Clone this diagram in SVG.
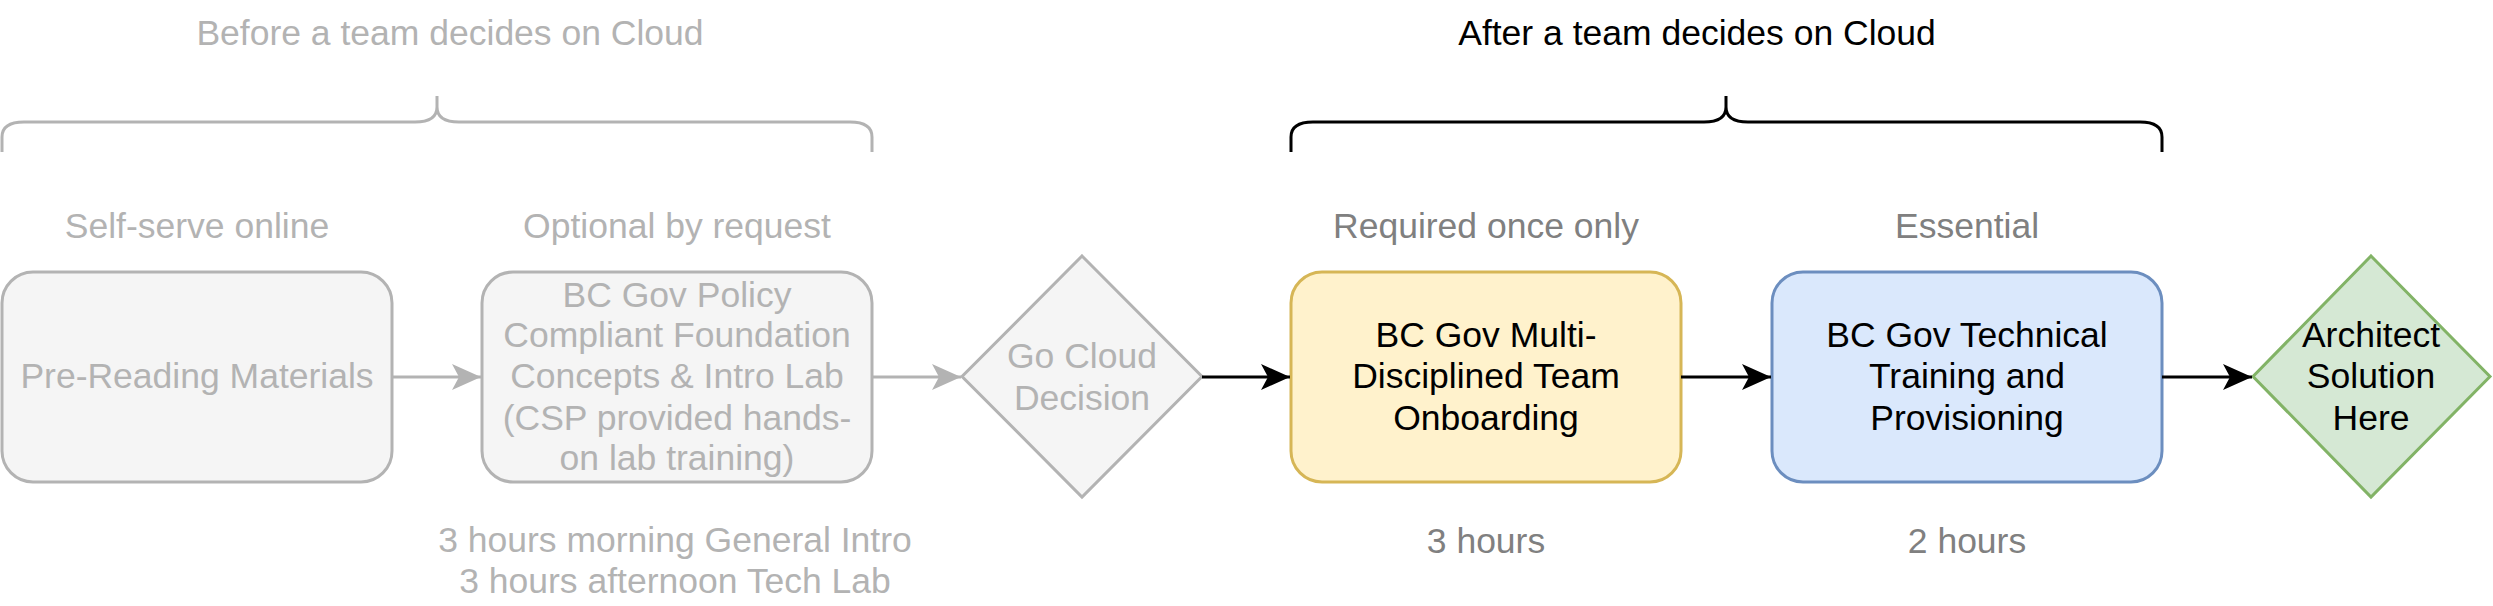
<svg xmlns="http://www.w3.org/2000/svg" width="2493" height="606" viewBox="0 0 2493 606">
<style>
text{font-family:"Liberation Sans",Arial,Helvetica,sans-serif;font-size:35.5px;text-anchor:middle}
.fade{fill:#B3B3B3}
.mid{fill:#808080}
.dark{fill:#000000}
.gbox{fill:#f5f5f5;stroke:#B3B3B3;stroke-width:3}
.brace{fill:none;stroke-width:3}
.conn{fill:none;stroke-width:3}
</style>
<defs>
<marker id="ag" markerUnits="userSpaceOnUse" markerWidth="30" markerHeight="28" refX="29" refY="13" orient="auto" viewBox="0 0 30 28">
<path d="M29 13 L0 0 L7 13 L0 26 Z" fill="#B3B3B3"/>
</marker>
<marker id="ab" markerUnits="userSpaceOnUse" markerWidth="30" markerHeight="28" refX="29" refY="13" orient="auto" viewBox="0 0 30 28">
<path d="M29 13 L0 0 L7 13 L0 26 Z" fill="#000000"/>
</marker>
</defs>
<rect width="2493" height="606" fill="#ffffff"/>

<g id="title-before">
<text class="fade" x="450" y="45">Before a team decides on Cloud</text>
<path class="brace" stroke="#B3B3B3" d="M2 152 L2 137 Q2 122 24 122 L415 122 Q437 122 437 107 L437 96 M437 107 Q437 122 459 122 L850 122 Q872 122 872 137 L872 152"/>
</g>
<g id="title-after">
<text class="dark" x="1697" y="45">After a team decides on Cloud</text>
<path class="brace" stroke="#000000" d="M1291 152 L1291 137 Q1291 122 1313 122 L1704 122 Q1726 122 1726 107 L1726 96 M1726 107 Q1726 122 1748 122 L2140 122 Q2162 122 2162 137 L2162 152"/>
</g>

<g id="label-selfserve"><text class="fade" x="197" y="238">Self-serve online</text></g>
<g id="label-optional"><text class="fade" x="677" y="238">Optional by request</text></g>
<g id="label-required"><text class="mid" x="1486" y="238">Required once only</text></g>
<g id="label-essential"><text class="mid" x="1967" y="238">Essential</text></g>

<g id="node-prereading">
<rect class="gbox" x="2" y="272" width="390" height="210" rx="31" ry="31"/>
<text class="fade" x="197" y="388">Pre-Reading Materials</text>
</g>
<g id="node-foundation">
<rect class="gbox" x="482" y="272" width="390" height="210" rx="31" ry="31"/>
<text class="fade" x="677" y="307">BC Gov Policy</text>
<text class="fade" x="677" y="347">Compliant Foundation</text>
<text class="fade" x="677" y="388">Concepts &amp; Intro Lab</text>
<text class="fade" x="677" y="430">(CSP provided hands-</text>
<text class="fade" x="677" y="470">on lab training)</text>
</g>
<g id="node-decision">
<path class="gbox" d="M1082 256 L1202 376.5 L1082 497 L962 376.5 Z"/>
<text class="fade" x="1082" y="368">Go Cloud</text>
<text class="fade" x="1082" y="410">Decision</text>
</g>
<g id="node-onboarding">
<rect x="1291" y="272" width="390" height="210" rx="31" ry="31" fill="#fff2cc" stroke="#d6b656" stroke-width="3"/>
<text class="dark" x="1486" y="347">BC Gov Multi-</text>
<text class="dark" x="1486" y="388">Disciplined Team</text>
<text class="dark" x="1486" y="430">Onboarding</text>
</g>
<g id="node-technical">
<rect x="1772" y="272" width="390" height="210" rx="31" ry="31" fill="#dae8fc" stroke="#6c8ebf" stroke-width="3"/>
<text class="dark" x="1967" y="347">BC Gov Technical</text>
<text class="dark" x="1967" y="388">Training and</text>
<text class="dark" x="1967" y="430">Provisioning</text>
</g>
<g id="node-architect">
<path d="M2371 256 L2490 376.5 L2371 497 L2253 376.5 Z" fill="#d5e8d4" stroke="#82b366" stroke-width="3"/>
<text class="dark" x="2371" y="347">Architect</text>
<text class="dark" x="2371" y="388">Solution</text>
<text class="dark" x="2371" y="430">Here</text>
</g>

<g id="label-hours1"><text class="fade" x="675" y="552">3 hours morning General Intro</text><text class="fade" x="675" y="593">3 hours afternoon Tech Lab</text></g>
<g id="label-hours2"><text class="mid" x="1486" y="553">3 hours</text></g>
<g id="label-hours3"><text class="mid" x="1967" y="553">2 hours</text></g>

<g id="connectors">
<path class="conn" stroke="#B3B3B3" d="M392 377 L481 377" marker-end="url(#ag)"/>
<path class="conn" stroke="#B3B3B3" d="M872 377 L961 377" marker-end="url(#ag)"/>
<path class="conn" stroke="#000000" d="M1202 377 L1290 377" marker-end="url(#ab)"/>
<path class="conn" stroke="#000000" d="M1681 377 L1771 377" marker-end="url(#ab)"/>
<path class="conn" stroke="#000000" d="M2162 377 L2252 377" marker-end="url(#ab)"/>
</g>
</svg>
